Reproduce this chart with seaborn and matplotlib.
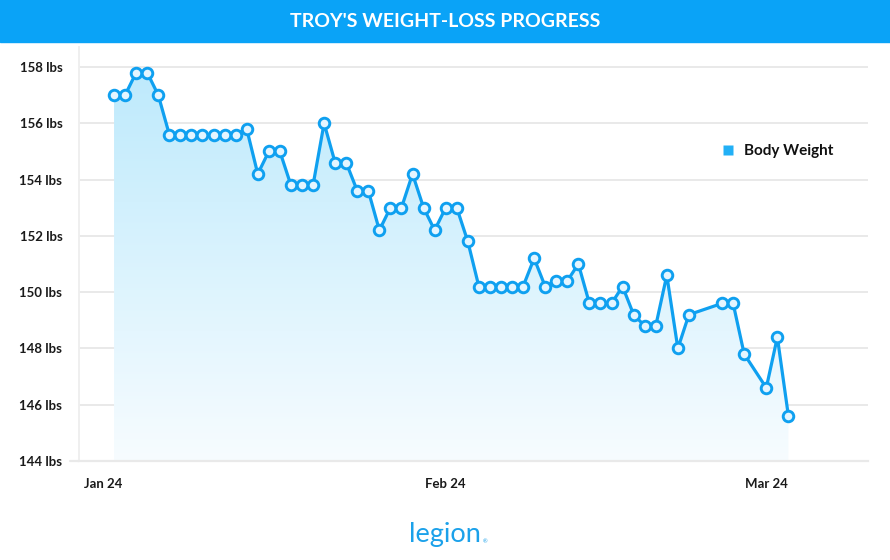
#!/usr/bin/env python3
"""Troy's weight-loss progress, drawn as a filled line chart."""

import numpy as np
import pandas as pd
import seaborn as sns
import matplotlib
matplotlib.use("Agg")
import matplotlib.pyplot as plt
import matplotlib.dates as mdates
from matplotlib.lines import Line2D
from matplotlib.patches import FancyBboxPatch, Rectangle

# daily weigh-ins (a few days are missing near the end)
dates = pd.date_range("2024-01-02", "2024-02-23").tolist() + [
    pd.Timestamp(d) for d in
    ["2024-02-26", "2024-02-27", "2024-02-28",
     "2024-03-01", "2024-03-02", "2024-03-03"]
]
weights = [
    157.0, 157.0, 157.8, 157.8, 157.0, 155.6, 155.6, 155.6, 155.6, 155.6,
    155.6, 155.6, 155.8, 154.2, 155.0, 155.0, 153.8, 153.8, 153.8, 156.0,
    154.6, 154.6, 153.6, 153.6, 152.2, 153.0, 153.0, 154.2, 153.0, 152.2,
    153.0, 153.0, 151.8, 150.2, 150.2, 150.2, 150.2, 150.2, 151.2, 150.2,
    150.4, 150.4, 151.0, 149.6, 149.6, 149.6, 150.2, 149.2, 148.8, 148.8,
    150.6, 148.0, 149.2,
    149.6, 149.6, 147.8, 146.6, 148.4, 145.6,
]
y_ticks = [144, 146, 148, 150, 152, 154, 156, 158]
x_ticks = ["2024-01-01", "2024-02-01", "2024-03-01"]

title = "TROY'S WEIGHT-LOSS PROGRESS"
series_name = "Body Weight"

BLUE = "#0fa0f0"
HEADER = "#0aa3f7"
GRID = "#e9e9e9"
TEXT = "#1a1a1a"

sns.set_theme(style="white")
plt.rcParams["font.family"] = ["Lato", "DejaVu Sans"]

df = pd.DataFrame({"date": dates, "weight": weights})

fig = plt.figure(figsize=(8.9, 5.6), dpi=100)
ax = fig.add_axes([79 / 890, 99 / 560, 789 / 890, 414 / 560])

# gradient fill under the line
x_num = mdates.date2num(df["date"])
poly = ax.fill_between(x_num, df["weight"], 144, color="none", lw=0)
top_c = np.array([190, 234, 252]) / 255
bot_c = np.array([247, 252, 255]) / 255
t = np.linspace(0, 1, 256)[:, None]
grad = (bot_c * (1 - t) + top_c * t)[:, None, :]
im = ax.imshow(grad, extent=[x_num[0], x_num[-1], 144, max(weights)],
               aspect="auto", origin="lower", zorder=1, interpolation="bilinear")
im.set_clip_path(poly.get_paths()[0], transform=ax.transData)

sns.lineplot(data=df, x="date", y="weight", ax=ax, color=BLUE, lw=2.3,
             marker="o", markersize=7.6, markeredgewidth=2.1,
             markerfacecolor="#e4f5ff", markeredgecolor=BLUE, zorder=3)

ax.set_ylim(144, 158.71)
ax.set_xlim(mdates.date2num(pd.Timestamp("2024-01-02")) - 3.17,
            mdates.date2num(pd.Timestamp("2024-01-02")) + 68.2)
ax.set_yticks(y_ticks)
ax.set_yticklabels([f"{v} lbs" for v in y_ticks])
ax.set_xticks(mdates.date2num(pd.to_datetime(x_ticks)))
ax.xaxis.set_major_formatter(mdates.DateFormatter("%b %y"))
ax.set_xlabel("")
ax.set_ylabel("")
ax.grid(axis="y", color=GRID, lw=1.4)
ax.set_axisbelow(True)
ax.tick_params(axis="y", length=0, pad=12, labelsize=9.5, labelcolor=TEXT)
ax.tick_params(axis="x", length=0, pad=12, labelsize=9.5, labelcolor=TEXT)
for lab in ax.get_xticklabels() + ax.get_yticklabels():
    lab.set_fontweight("bold")
for lab in ax.get_xticklabels():
    lab.set_x(lab.get_position()[0])
for side in ["top", "right"]:
    ax.spines[side].set_visible(False)
ax.spines["left"].set_color("#efefef")
ax.spines["left"].set_linewidth(1.4)
ax.spines["bottom"].set_color(GRID)
ax.spines["bottom"].set_linewidth(1.6)
ax.plot([-0.011, 0], [0, 0], transform=ax.transAxes, color=GRID, lw=1.6,
        clip_on=False)

handle = Line2D([], [], marker="s", color="none", markerfacecolor="#22b0f6",
                markeredgecolor="none", markersize=7.5)
leg = ax.legend([handle], [series_name], loc="center left",
                bbox_to_anchor=(0.795, 0.749), frameon=False,
                handletextpad=0.6, handlelength=1.0,
                prop={"weight": "bold", "size": 11})
for txt in leg.get_texts():
    txt.set_color("#111111")

# header bar
fig.patches.append(FancyBboxPatch((0, 0.935), 1, 0.2, boxstyle="round,pad=0,rounding_size=0.012",
                                  transform=fig.transFigure, color=HEADER,
                                  mutation_aspect=890 / 560, zorder=0))
fig.patches.append(Rectangle((0, 0.925), 1, 0.04, transform=fig.transFigure,
                             color=HEADER, zorder=0))
fig.patches.append(Rectangle((0, 0.0), 1, 0.925, transform=fig.transFigure,
                             color="white", zorder=-1))
fig.text(0.5, 0.962, title, ha="center", va="center", color="white",
         fontsize=14, fontweight="bold")

# logo
fig.text(0.5, 0.045, "legion", ha="center", va="center", color="#1ba1ea",
         fontsize=19.5)
fig.text(0.5445, 0.033, "®", ha="center", va="center", color="#1ba1ea",
         fontsize=4)

fig.savefig("out.png", dpi=100, facecolor="white")
